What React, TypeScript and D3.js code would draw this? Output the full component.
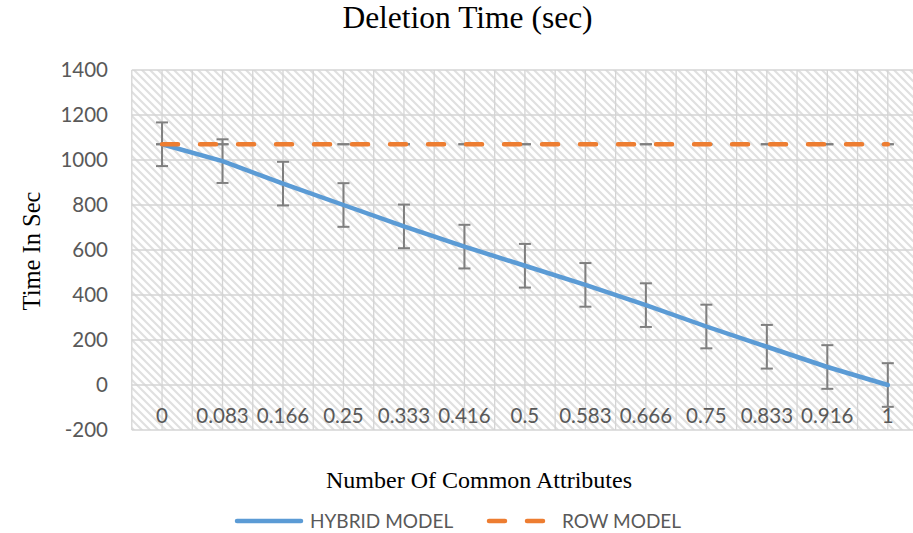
import React from "react";
import * as d3 from "d3";

const categories = ["0", "0.083", "0.166", "0.25", "0.333", "0.416", "0.5", "0.583", "0.666", "0.75", "0.833", "0.916", "1"];
const hybridModel = [1070, 995, 895, 800, 705, 615, 530, 445, 355, 260, 170, 80, 0];
const rowModel = [1070, 1070, 1070, 1070, 1070, 1070, 1070, 1070, 1070, 1070, 1070, 1070, 1070];
const hybridError = [97, 97, 97, 97, 97, 97, 97, 97, 97, 97, 97, 97, 97];
const rowError = [0, 0, 0, 0, 0, 0, 0, 0, 0, 0, 0, 0, 0];
const yTicks = [-200, 0, 200, 400, 600, 800, 1000, 1200, 1400];

const W = 913;
const H = 533;
const plot = { left: 131.8, top: 70, step: 60.48, bottom: 430 };
const sans = "Lato, 'Open Sans', sans-serif";
const serif = "'Liberation Serif', 'Times New Roman', serif";
const BLUE = "#5B9BD5";
const ORANGE = "#ED7D31";
const GREY = "#7F7F7F";

const App = () => {
  const x = d3
    .scaleBand<string>()
    .domain(categories)
    .range([plot.left, plot.left + plot.step * categories.length])
    .padding(0);
  const bw = x.bandwidth();
  const cx = (c: string) => (x(c) as number) + bw / 2;

  const y = d3.scaleLinear().domain([-200, 1400]).range([plot.bottom, plot.top]);

  const line = d3
    .line<number>()
    .x((_, i) => cx(categories[i]))
    .y((d) => y(d));

  // gridlines on band edges and on category centres
  const vLines: number[] = [];
  categories.forEach((c) => {
    vLines.push(x(c) as number);
    vLines.push(cx(c));
  });
  const plotRight = plot.left + plot.step * categories.length;
  vLines.push(plotRight);

  const errorBars = (vals: number[], errs: number[], key: string) =>
    vals.map((v, i) => {
      const px = cx(categories[i]);
      const top = y(v + errs[i]);
      const bot = y(v - errs[i]);
      return (
        <g key={key + i} stroke={GREY} strokeWidth={2}>
          {errs[i] > 0 && <line x1={px} x2={px} y1={top} y2={bot} />}
          <line x1={px - 6} x2={px + 6} y1={top} y2={top} />
          <line x1={px - 6} x2={px + 6} y1={bot} y2={bot} />
        </g>
      );
    });

  return (
    <div style={{ position: "absolute", left: 0, top: 0 }}>
      <svg width={W} height={H} style={{ display: "block", background: "#fff" }}>
        <defs>
          <pattern id="hatch" width={8} height={8} patternUnits="userSpaceOnUse">
            <rect width={8} height={8} fill="#fff" />
            <path d="M-1,-1 L9,9 M-1,7 L1,9 M7,-1 L9,1" stroke="#e0e0e0" strokeWidth={2.1} />
          </pattern>
        </defs>

        <text x={467.5} y={28} textAnchor="middle" fontFamily={serif} fontSize={31.5} fill="#000">
          Deletion Time (sec)
        </text>

        <rect
          x={plot.left}
          y={plot.top}
          width={plotRight - plot.left}
          height={plot.bottom - plot.top}
          fill="url(#hatch)"
        />

        <g stroke="#d4d4d4" strokeWidth={1.3}>
          {yTicks.map((t) => (
            <line key={"h" + t} x1={plot.left} x2={plotRight} y1={y(t)} y2={y(t)} />
          ))}
          {vLines.map((v, i) => (
            <line key={"v" + i} x1={v} x2={v} y1={plot.top} y2={plot.bottom} />
          ))}
        </g>

        <g fontFamily={sans} fontSize={20.5} fill="#595959">
          {yTicks.map((t) => (
            <text key={"yt" + t} x={108} y={y(t)} dy="0.35em" textAnchor="end">
              {t}
            </text>
          ))}
          {categories.map((c) => (
            <text key={"xt" + c} x={cx(c)} y={423} textAnchor="middle">
              {c}
            </text>
          ))}
        </g>

        {errorBars(hybridModel, hybridError, "he")}
        {errorBars(rowModel, rowError, "re")}

        <path
          d={line(hybridModel) || ""}
          fill="none"
          stroke={BLUE}
          strokeWidth={4.5}
          strokeLinejoin="round"
          strokeLinecap="round"
        />
        <path
          d={line(rowModel) || ""}
          fill="none"
          stroke={ORANGE}
          strokeWidth={4.5}
          strokeDasharray="16 22"
          strokeLinecap="round"
        />

        <text
          transform={`translate(40,251) rotate(-90)`}
          textAnchor="middle"
          fontFamily={serif}
          fontSize={24.5}
          fill="#000"
        >
          Time In Sec
        </text>
        <text x={479} y={488} textAnchor="middle" fontFamily={serif} fontSize={24} fill="#000">
          Number Of Common Attributes
        </text>

        <g fontFamily={sans} fontSize={19} fill="#595959">
          <line x1={237} x2={301} y1={521} y2={521} stroke={BLUE} strokeWidth={4.5} strokeLinecap="round" />
          <text x={310} y={528}>HYBRID MODEL</text>
          <line
            x1={489}
            x2={546}
            y1={521}
            y2={521}
            stroke={ORANGE}
            strokeWidth={4.5}
            strokeDasharray="16 22"
            strokeLinecap="round"
          />
          <text x={562} y={528}>ROW MODEL</text>
        </g>
      </svg>
    </div>
  );
};

export default App;
